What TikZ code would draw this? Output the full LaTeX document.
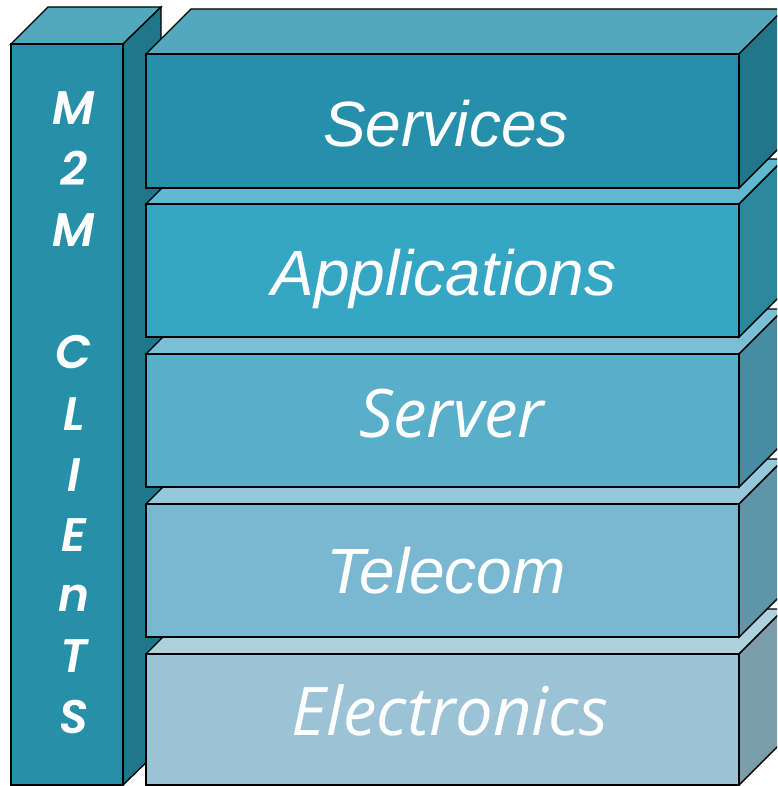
\documentclass[tikz,border=0pt]{standalone}
\usepackage{fontspec}
\newfontfamily\arialfont{Liberation Sans}
\newfontfamily\opensans{Open Sans}
\newfontfamily\gothic{Poppins}[BoldFont={* SemiBold}, BoldItalicFont={* SemiBold Italic}]
\definecolor{colFront}{HTML}{2690A9}
\definecolor{colSide}{HTML}{20778A}
\definecolor{colTop}{HTML}{52A8BC}
\definecolor{svFront}{HTML}{2690AA}
\definecolor{svTop}{HTML}{53A8BC}
\definecolor{svSide}{HTML}{217689}
\definecolor{apFront}{HTML}{36A6C5}
\definecolor{apTop}{HTML}{5EB8D2}
\definecolor{apSide}{HTML}{2B889F}
\definecolor{srFront}{HTML}{59AFCA}
\definecolor{srTop}{HTML}{7ABFD6}
\definecolor{srSide}{HTML}{468DA2}
\definecolor{tcFront}{HTML}{7AB7D0}
\definecolor{tcTop}{HTML}{95C8DB}
\definecolor{tcSide}{HTML}{5F95A8}
\definecolor{elFront}{HTML}{9BC3D5}
\definecolor{elTop}{HTML}{ADD2DE}
\definecolor{elSide}{HTML}{7A9FAB}
% #1 top y, #2 bottom y, #3 front, #4 top, #5 side
\newcommand\mylayer[5]{%
  \filldraw[edge,fill=#4] (146,#1) -- (191,{#1-45}) -- (784,{#1-45}) -- (739,#1) -- cycle;
  \filldraw[edge,fill=#5] (739,#1) -- (784,{#1-45}) -- (784,{#2-45}) -- (739,#2) -- cycle;
  \filldraw[edge,fill=#3] (146,#1) rectangle (739,#2);
}
\begin{document}
\begin{tikzpicture}[x=1pt,y=-1pt,
  edge/.style={draw=black,line width=1.4pt,line join=miter},
  lbl/.style={text=white,inner sep=0pt,anchor=base},
  arialtxt/.style={lbl,font=\arialfont\itshape\fontsize{64}{64}\selectfont},
  opentxt/.style={lbl,font=\opensans\itshape\fontsize{67}{67}\selectfont},
  coltxt/.style={lbl,font=\gothic\bfseries\itshape\fontsize{47}{47}\selectfont}]
\useasboundingbox (0,0) rectangle (777,786);
\clip (0,0) rectangle (777,786);
% left column
\filldraw[edge,fill=colTop] (11,44) -- (48,7) -- (161,7) -- (123,44) -- cycle;
\filldraw[edge,fill=colSide] (123,44) -- (161,7) -- (161,748) -- (123,785) -- cycle;
\filldraw[edge,fill=colFront] (11,44) rectangle (123,785);
% layers, bottom to top
\mylayer{654}{785}{elFront}{elTop}{elSide}
\mylayer{504}{637}{tcFront}{tcTop}{tcSide}
\mylayer{354}{487}{srFront}{srTop}{srSide}
\mylayer{204}{337}{apFront}{apTop}{apSide}
\mylayer{54}{188}{svFront}{svTop}{svSide}
% labels
\node[arialtxt] (services) at (446,147) {Services};
\node[arialtxt] (applications) at (444,295) {Applications};
\node[opentxt] (server) at (452,437) {Server};
\node[arialtxt] (telecom) at (446,593) {Telecom};
\node[opentxt] (electronics) at (450,735) {Electronics};
% column letters
\foreach \ch/\yy/\nm in {M/125/c1, 2/186/c2, M/247/c3, C/368/c4, L/430/c5, I/491/c6, E/551/c7, n/611/c8, T/672/c9, S/733/c10}
  \node[coltxt] (\nm) at (74,\yy) {\ch};
\end{tikzpicture}
\end{document}
